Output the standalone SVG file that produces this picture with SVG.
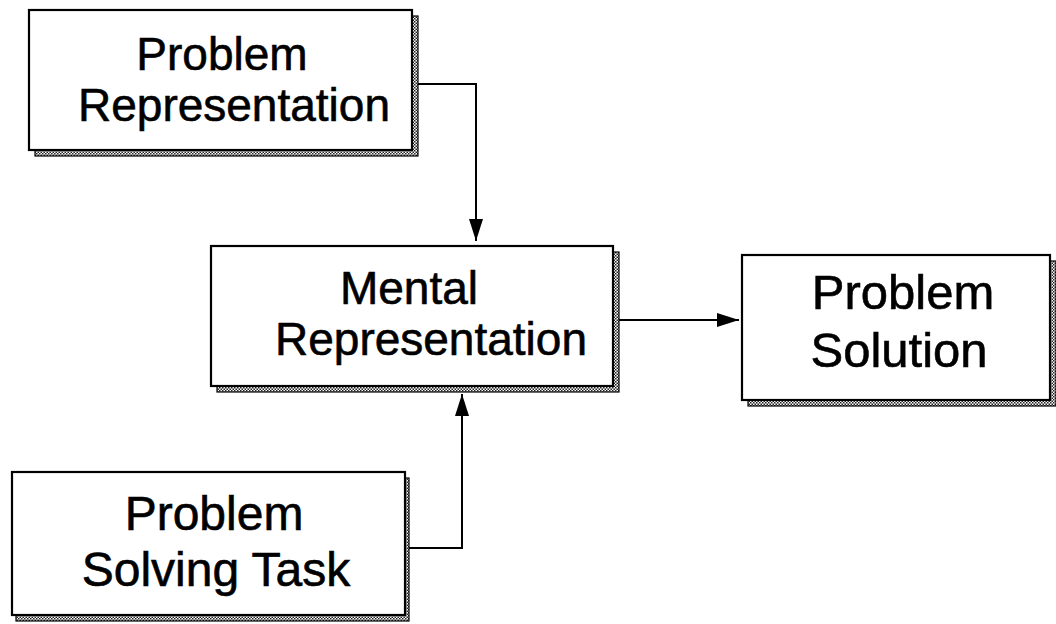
<svg xmlns="http://www.w3.org/2000/svg" width="1056" height="624" viewBox="0 0 1056 624">
  <defs>
    <pattern id="chk" width="3" height="3" patternUnits="userSpaceOnUse">
      <rect width="3" height="3" fill="#ffffff"/>
      <rect width="1.5" height="1.5" fill="#222"/>
      <rect x="1.5" y="1.5" width="1.5" height="1.5" fill="#222"/>
    </pattern>
    <marker id="arr" markerWidth="22" markerHeight="14" refX="22" refY="7" orient="auto" markerUnits="userSpaceOnUse">
      <path d="M0,0 L22,7 L0,14 Z" fill="#000"/>
    </marker>
  </defs>
  <style>
    .shadow { fill: url(#chk); stroke: #000; stroke-width: 1.2; }
    .box { fill: #fff; stroke: #000; stroke-width: 2.2; }
    .lbl { font-family: "Liberation Sans", Arial, sans-serif; fill: #000; stroke: #000; stroke-width: 0.6; text-anchor: middle; }
    .conn { fill: none; stroke: #000; stroke-width: 2; }
  </style>
  <rect width="1056" height="624" fill="#fff"/>

  <g id="connectors">
    <path class="conn" d="M418,84 H476 V241" marker-end="url(#arr)"/>
    <path class="conn" d="M619,320 H739" marker-end="url(#arr)"/>
    <path class="conn" d="M409,548 H462 V394" marker-end="url(#arr)"/>
  </g>

  <g id="problem-representation">
    <rect class="shadow" x="35" y="16" width="383" height="140"/>
    <rect class="box" x="29" y="10" width="383" height="140"/>
    <text class="lbl" x="222" y="70" font-size="46">Problem</text>
    <text class="lbl" x="234" y="121" font-size="46">Representation</text>
  </g>

  <g id="mental-representation">
    <rect class="shadow" x="217" y="252" width="402" height="140"/>
    <rect class="box" x="211" y="246" width="402" height="140"/>
    <text class="lbl" x="409" y="304" font-size="46">Mental</text>
    <text class="lbl" x="431" y="355" font-size="46">Representation</text>
  </g>

  <g id="problem-solution">
    <rect class="shadow" x="748" y="261" width="308" height="145"/>
    <rect class="box" x="742" y="255" width="308" height="145"/>
    <text class="lbl" x="903" y="309" font-size="49">Problem</text>
    <text class="lbl" x="899" y="367" font-size="49">Solution</text>
  </g>

  <g id="problem-solving-task">
    <rect class="shadow" x="16" y="478" width="393" height="143"/>
    <rect class="box" x="12" y="472" width="393" height="143"/>
    <text class="lbl" x="214" y="530" font-size="48">Problem</text>
    <text class="lbl" x="216" y="586" font-size="48">Solving Task</text>
  </g>
</svg>
